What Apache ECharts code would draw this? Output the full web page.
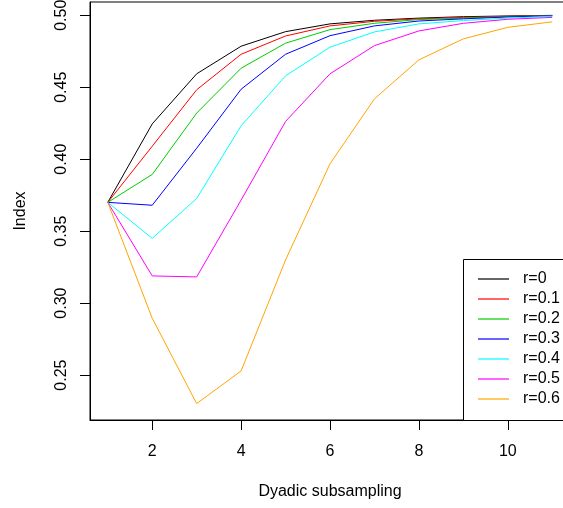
<!DOCTYPE html>
<html>
<head>
<meta charset="utf-8">
<script src="https://cdn.jsdelivr.net/npm/echarts@6/dist/echarts.min.js"></script>
<style>
  html, body { margin: 0; padding: 0; background: #fff; }
  #chart { width: 563px; height: 508px; }
</style>
</head>
<body>
<div id="chart"></div>
<script>
// data
var xs = [1, 2, 3, 4, 5, 6, 7, 8, 9, 10, 11];
var names = ['r=0', 'r=0.1', 'r=0.2', 'r=0.3', 'r=0.4', 'r=0.5', 'r=0.6'];
var colors = ['#000000', '#FF0000', '#00CD00', '#0000FF', '#00FFFF', '#FF00FF', '#FFA500'];

var r0  = [0.370, 0.4245, 0.4593, 0.4785, 0.4886, 0.4940, 0.4965, 0.4980, 0.4990, 0.4995, 0.4999];
var r01 = [0.370, 0.4090, 0.4482, 0.4729, 0.4856, 0.4926, 0.4958, 0.4975, 0.4985, 0.4993, 0.4998];
var r02 = [0.370, 0.3894, 0.4320, 0.4632, 0.4806, 0.4900, 0.4944, 0.4970, 0.4980, 0.4990, 0.4997];
var r03 = [0.370, 0.3680, 0.4076, 0.4486, 0.4729, 0.4858, 0.4926, 0.4960, 0.4975, 0.4988, 0.4996];
var r04 = [0.370, 0.3450, 0.3727, 0.4232, 0.4579, 0.4778, 0.4884, 0.4940, 0.4963, 0.4980, 0.4993];
var r05 = [0.370, 0.3189, 0.3182, 0.3716, 0.4262, 0.4593, 0.4789, 0.4891, 0.4944, 0.4972, 0.4985];
var r06 = [0.370, 0.2895, 0.2302, 0.2529, 0.3300, 0.3968, 0.4419, 0.4690, 0.4836, 0.4916, 0.4954];
var allSeries = [r0, r01, r02, r03, r04, r05, r06];

var xTicks = [2, 4, 6, 8, 10];
var yTicks = [0.25, 0.30, 0.35, 0.40, 0.45, 0.50];

var myChart = echarts.init(document.getElementById('chart'));

var font = 'Liberation Sans, Arial, sans-serif';

var series = allSeries.map(function (vals, i) {
    return {
        name: names[i],
        type: 'line',
        data: vals.map(function (v, j) { return [xs[j], v]; }),
        showSymbol: false,
        symbol: 'none',
        lineStyle: { color: colors[i], width: 1 },
        itemStyle: { color: colors[i] }
    };
});

var option = {
    animation: false,
    backgroundColor: '#fff',
    textStyle: { fontFamily: font },
    grid: {
        left: 90, top: 2, width: 480, height: 418,
        containLabel: false,
        outerBoundsMode: 'none',
        show: true, borderColor: '#000', borderWidth: 1, backgroundColor: 'transparent'
    },
    xAxis: {
        type: 'value',
        min: 0.6, max: 11.4,
        name: 'Dyadic subsampling',
        nameLocation: 'middle',
        nameGap: 64,
        nameTextStyle: { fontSize: 16, color: '#000', fontFamily: font },
        splitLine: { show: false },
        axisLine: { show: true, lineStyle: { color: '#000', width: 1 } },
        axisTick: { show: true, inside: false, length: 10, customValues: xTicks, lineStyle: { color: '#000' } },
        axisLabel: { customValues: xTicks, fontSize: 16, color: '#000', margin: 24, fontFamily: font }
    },
    yAxis: {
        type: 'value',
        min: 0.2188, max: 0.5092,
        name: 'Index',
        nameLocation: 'middle',
        nameGap: 61,
        nameRotate: 90,
        nameTextStyle: { fontSize: 16, color: '#000', fontFamily: font },
        splitLine: { show: false },
        axisLine: { show: true, lineStyle: { color: '#000', width: 1 } },
        axisTick: { show: true, inside: false, length: 10, customValues: yTicks, lineStyle: { color: '#000' } },
        axisLabel: {
            customValues: yTicks, rotate: 90, fontSize: 16, color: '#000', margin: 20, fontFamily: font,
            formatter: function (v) { return v.toFixed(2); }
        }
    },
    // legend frame runs off the right edge like in R
    graphic: [{
        type: 'rect',
        left: 463, top: 259, z: 5,
        shape: { width: 200, height: 161 },
        style: { fill: '#fff', stroke: '#000', lineWidth: 1 }
    }],
    legend: {
        left: 463, top: 259, z: 10,
        orient: 'vertical',
        data: names,
        icon: 'rect',
        itemWidth: 31, itemHeight: 1.2,
        itemGap: 0,
        padding: [10, 10, 10, 15],
        textStyle: { fontSize: 16, color: '#000', lineHeight: 20, padding: [0, 0, 0, 9], fontFamily: font }
    },
    series: series
};

myChart.setOption(option);
</script>
</body>
</html>
